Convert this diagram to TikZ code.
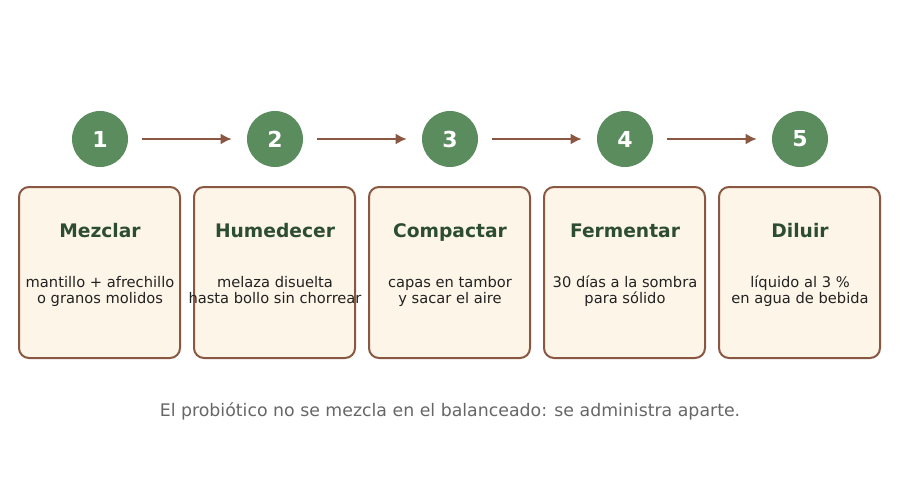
\documentclass[tikz,border=0pt]{standalone}
\usepackage{fontspec}
\setmainfont{DejaVu Sans}
\usetikzlibrary{arrows.meta}
\definecolor{circ}{HTML}{5B8C5E}
\definecolor{ttl}{HTML}{2D4D33}
\definecolor{boxfill}{HTML}{FDF5E8}
\definecolor{brown}{HTML}{8A5743}
\definecolor{bodytxt}{HTML}{222222}
\definecolor{note}{HTML}{666666}
\begin{document}
\begin{tikzpicture}[x=0.75pt,y=-0.75pt,
  stepcirc/.style={circle,fill=circ,minimum size=56*0.75pt,inner sep=0pt,text=white,font=\fontsize{16.5}{18}\selectfont\bfseries},
  card/.style={draw=brown,line width=2*0.75pt,fill=boxfill,rounded corners=10*0.75pt,minimum width=161*0.75pt,minimum height=171*0.75pt,inner sep=0pt},
  ttltxt/.style={text=ttl,font=\fontsize{14}{16}\selectfont\bfseries},
  bodytxtst/.style={text=bodytxt,font=\fontsize{11}{12}\selectfont,align=center},
  conn/.style={draw=brown,line width=2.2*0.75pt,-{Latex[length=11*0.75pt,width=11*0.75pt]}}
]
\useasboundingbox (0,0) rectangle (900,478);
\foreach \i/\x/\t/\a/\b in {1/100/Mezclar/mantillo + afrechillo/o granos molidos,
  2/275/Humedecer/melaza disuelta/hasta bollo sin chorrear,
  3/450/Compactar/capas en tambor/y sacar el aire,
  4/625/Fermentar/30 días a la sombra/para sólido,
  5/800/Diluir/líquido al 3 \%/en agua de bebida}{
  \node[stepcirc] (c\i) at (\x,139) {\i};
  \node[card] (b\i) at (\x-0.5,272.5) {};
  \node[ttltxt,anchor=base] (t\i) at (\x,237) {\t};
  \node[bodytxtst,anchor=base] (l\i) at (\x,287) {\a};
  \node[bodytxtst,anchor=base] (m\i) at (\x,303) {\b};
}
\foreach \i/\j in {1/2,2/3,3/4,4/5}{
  \draw[conn] ([xshift=14*0.75pt]c\i.east) -- ([xshift=-15*0.75pt]c\j.west);
}
\node[text=note,font=\fontsize{13}{15}\selectfont,anchor=base] (n) at (450,416) {El probiótico no se mezcla en el balanceado: se administra aparte.};
\end{tikzpicture}
\end{document}
